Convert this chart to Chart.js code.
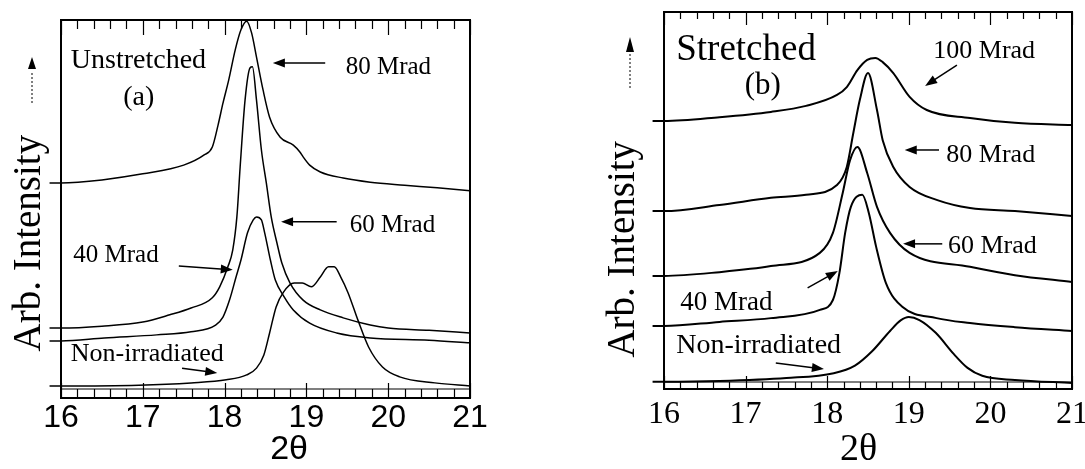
<!DOCTYPE html>
<html>
<head>
<meta charset="utf-8">
<title>Arb. Intensity vs 2θ</title>
<script src="https://cdn.jsdelivr.net/npm/chart.js@4.4.1/dist/chart.umd.min.js"></script>
<style>
  html, body { margin: 0; padding: 0; background: #fff; overflow: hidden; }
  #wrap { position: relative; width: 1085px; height: 469px; overflow: hidden; background: #fff; }
  canvas { position: absolute; top: 0; }
  #chartA { left: 0; }
  #chartB { left: 545px; }
</style>
</head>
<body>
<div id="wrap">
  <canvas id="chartA" width="545" height="469"></canvas>
  <canvas id="chartB" width="545" height="469"></canvas>
</div>
<script>
// values: 2-theta and intensity (arb. units, 0-100 of the frame)

// (a) unstretched
const unstrX80 = [15.86, 16.0, 16.5, 17.0, 17.5, 17.75, 17.85, 17.92, 17.98, 18.05, 18.13, 18.2, 18.27, 18.33, 18.39, 18.47, 18.55, 18.68, 18.84, 18.92, 18.96, 19.04, 19.17, 19.45, 19.78, 20.2, 20.6, 21.0];
const unstr80  = [56.9, 56.9, 57.7, 59.3, 61.6, 64.3, 66.4, 72.2, 78.0, 84.1, 92.1, 97.4, 99.7, 96.6, 90.2, 81.5, 74.3, 69.0, 66.9, 65.1, 63.8, 61.6, 59.8, 58.2, 57.1, 56.3, 55.6, 54.8];

const unstrX60 = [15.86, 16.0, 16.5, 17.0, 17.33, 17.59, 17.85, 17.94, 18.04, 18.10, 18.15, 18.19, 18.25, 18.31, 18.34, 18.39, 18.45, 18.51, 18.57, 18.64, 18.70, 18.80, 18.96, 19.17, 19.45, 19.78, 20.0, 20.5, 21.0];
const unstr60  = [18.5, 18.5, 19.0, 20.1, 22.0, 23.8, 26.5, 29.4, 34.7, 39.2, 47.9, 61.1, 78.8, 87.3, 87.6, 78.8, 65.6, 56.9, 47.9, 41.0, 35.7, 30.4, 25.9, 23.3, 21.2, 19.3, 18.5, 17.9, 17.2];

const unstrX40 = [15.86, 16.0, 16.53, 17.17, 17.59, 17.89, 17.98, 18.06, 18.14, 18.20, 18.28, 18.35, 18.39, 18.45, 18.49, 18.56, 18.62, 18.73, 18.84, 19.04, 19.37, 19.78, 20.5, 21.0];
const unstr40  = [15.1, 15.1, 15.9, 16.7, 17.5, 19.3, 21.4, 25.9, 32.0, 36.5, 43.7, 47.1, 47.9, 47.1, 43.7, 36.5, 31.2, 26.7, 23.3, 19.8, 17.2, 15.9, 15.3, 14.6];

const unstrX0 = [15.86, 16.0, 16.95, 17.59, 18.02, 18.27, 18.39, 18.48, 18.55, 18.63, 18.72, 18.85, 18.95, 19.06, 19.17, 19.27, 19.34, 19.42, 19.51, 19.63, 19.76, 19.93, 20.14, 20.57, 21.0];
const unstr0  = [3.2, 3.2, 3.4, 4.0, 4.8, 6.1, 7.9, 11.4, 17.2, 24.1, 28.0, 30.4, 30.4, 29.4, 32.0, 34.7, 34.7, 32.0, 27.8, 20.6, 13.5, 8.2, 5.6, 4.0, 3.2];

// (b) stretched
const strX100 = [15.86, 16.0, 16.68, 17.31, 17.74, 18.12, 18.24, 18.37, 18.49, 18.59, 18.68, 18.81, 19.01, 19.22, 19.75, 20.3, 21.0];
const str100  = [71.1, 71.1, 72.1, 73.5, 75.1, 78.0, 80.1, 84.6, 87.3, 87.8, 86.7, 83.8, 77.5, 74.0, 71.9, 70.6, 70.0];

const strX80 = [15.86, 16.0, 16.68, 17.31, 17.74, 18.12, 18.24, 18.32, 18.40, 18.50, 18.61, 18.68, 18.81, 19.01, 19.35, 19.75, 20.3, 21.0];
const str80  = [47.2, 47.2, 48.8, 50.7, 51.5, 54.1, 58.9, 67.9, 76.7, 83.8, 74.0, 66.0, 58.9, 53.6, 50.1, 48.0, 47.2, 45.9];

const strX60 = [15.86, 16.0, 16.68, 17.31, 17.91, 18.07, 18.19, 18.28, 18.37, 18.49, 18.61, 18.77, 19.01, 19.75, 20.3, 21.0];
const str60  = [30.0, 30.0, 31.0, 32.6, 36.1, 41.4, 52.0, 60.7, 64.2, 57.3, 48.3, 41.4, 36.1, 32.4, 30.2, 28.4];

const strX40 = [15.86, 16.0, 16.68, 17.31, 17.91, 18.07, 18.15, 18.22, 18.29, 18.43, 18.51, 18.60, 18.72, 18.92, 19.34, 19.75, 20.3, 21.0];
const str40  = [16.7, 16.7, 17.8, 18.8, 21.0, 23.6, 30.8, 41.4, 48.3, 51.5, 46.7, 37.7, 28.1, 21.8, 18.8, 17.5, 16.4, 15.4];

const strX0 = [15.86, 16.0, 16.68, 17.5, 18.08, 18.34, 18.55, 18.77, 18.9, 19.0, 19.13, 19.33, 19.55, 19.72, 19.9, 20.3, 21.0];
const str0  = [1.9, 1.9, 2.1, 2.9, 4.2, 6.2, 10.0, 15.4, 18.2, 19.1, 18.3, 14.9, 9.3, 5.6, 3.5, 2.4, 1.6];

const serif = "'Liberation Serif', 'Times New Roman', serif";
const sans = "'Liberation Sans', Arial, sans-serif";

// frame, inward ticks and the text notes with arrows
const framePlugin = {
  id: 'frame',
  afterDraw(chart, args, o) {
    const {ctx, chartArea: a, scales: {x, y}} = chart;
    ctx.save();
    ctx.strokeStyle = '#000';
    ctx.fillStyle = '#000';
    ctx.lineWidth = 2;
    ctx.strokeRect(a.left, a.top, a.right - a.left, a.bottom - a.top);

    ctx.lineWidth = 1.2;
    ctx.beginPath();
    ctx.moveTo(a.left, a.bottom - o.strip);
    ctx.lineTo(a.right, a.bottom - o.strip);
    ctx.stroke();

    for (let i = 0; i <= 25; i++) {
      const px = Math.round(x.getPixelForValue(16 + i * 0.2)) + 0.5;
      const len = i % 5 === 0 ? o.major : o.minor;
      ctx.beginPath();
      ctx.moveTo(px, a.bottom); ctx.lineTo(px, a.bottom - len);
      ctx.moveTo(px, a.top); ctx.lineTo(px, a.top + len);
      ctx.stroke();
    }

    ctx.textBaseline = 'alphabetic';
    ctx.textAlign = 'left';
    o.notes.forEach(n => {
      ctx.font = n.size + 'px ' + serif;
      ctx.fillText(n.text, x.getPixelForValue(n.x), y.getPixelForValue(n.y));
    });

    ctx.lineWidth = 1.5;
    o.arrows.forEach(r => {
      const x1 = x.getPixelForValue(r[0]), y1 = y.getPixelForValue(r[1]);
      const x2 = x.getPixelForValue(r[2]), y2 = y.getPixelForValue(r[3]);
      const ang = Math.atan2(y2 - y1, x2 - x1);
      ctx.beginPath();
      ctx.moveTo(x1, y1);
      ctx.lineTo(x2 - 9 * Math.cos(ang), y2 - 9 * Math.sin(ang));
      ctx.stroke();
      ctx.beginPath();
      ctx.moveTo(x2, y2);
      ctx.lineTo(x2 - 12 * Math.cos(ang) + 4.5 * Math.sin(ang), y2 - 12 * Math.sin(ang) - 4.5 * Math.cos(ang));
      ctx.lineTo(x2 - 12 * Math.cos(ang) - 4.5 * Math.sin(ang), y2 - 12 * Math.sin(ang) + 4.5 * Math.cos(ang));
      ctx.closePath();
      ctx.fill();
    });

    // intensity arrow next to the axis title
    const ya = o.yArrow;
    ctx.lineWidth = 1;
    ctx.setLineDash([2, 2]);
    ctx.beginPath();
    ctx.moveTo(ya.x, ya.end); ctx.lineTo(ya.x, ya.base + 2);
    ctx.stroke();
    ctx.setLineDash([]);
    ctx.beginPath();
    ctx.moveTo(ya.x, ya.tip);
    ctx.lineTo(ya.x - 4, ya.base);
    ctx.lineTo(ya.x + 4, ya.base);
    ctx.closePath();
    ctx.fill();
    ctx.restore();
  }
};

function makeChart(id, cfg) {
  return new Chart(document.getElementById(id), {
    type: 'line',
    data: {
      datasets: cfg.series.map(s => ({
        label: s.label,
        data: s.x.map((v, i) => ({x: v, y: s.y[i]})),
        borderColor: '#000',
        borderWidth: cfg.lineWidth,
        pointRadius: 0,
        fill: false,
        cubicInterpolationMode: 'monotone',
        clip: false
      }))
    },
    options: {
      responsive: false,
      animation: false,
      devicePixelRatio: 1,
      layout: {padding: cfg.padding},
      plugins: {
        legend: {display: false},
        tooltip: {enabled: false},
        frame: cfg.frame
      },
      scales: {
        x: {
          type: 'linear', min: 16, max: 21,
          grid: {display: false},
          border: {display: false},
          afterFit: s => { s.height = cfg.xHeight; },
          ticks: {stepSize: 1, autoSkip: false, maxRotation: 0, color: '#000', padding: cfg.tickPad,
                  font: {family: cfg.tickFamily, size: 32, lineHeight: 1}},
          title: {display: true, text: cfg.xTitle, color: '#000',
                  font: {family: cfg.xTitleFamily, size: cfg.xTitleSize, lineHeight: 1},
                  padding: {top: 0, bottom: cfg.xTitlePad}}
        },
        y: {
          type: 'linear', min: 0, max: 100,
          grid: {display: false},
          border: {display: false},
          ticks: {display: false},
          afterFit: s => { s.width = cfg.yWidth; },
          title: {display: true, text: cfg.yTitle, color: '#000',
                  font: {family: serif, size: 39, lineHeight: 1},
                  padding: {top: cfg.yTitlePad, bottom: 0}}
        }
      }
    },
    plugins: [framePlugin]
  });
}

makeChart('chartA', {
  series: [
    {label: '80 Mrad', x: unstrX80, y: unstr80},
    {label: '60 Mrad', x: unstrX60, y: unstr60},
    {label: '40 Mrad', x: unstrX40, y: unstr40},
    {label: 'Non-irradiated', x: unstrX0, y: unstr0}
  ],
  lineWidth: 1.5,
  padding: {left: 0, right: 75, top: 20, bottom: 0},
  xHeight: 71, yWidth: 61,
  tickFamily: sans, tickPad: -4,
  xTitle: '     2θ', xTitleFamily: sans, xTitleSize: 34, xTitlePad: 2,
  yTitle: 'Arb. Intensity       ', yTitlePad: 10,
  frame: {
    strip: 9, minor: 9, major: 15,
    notes: [
      {text: 'Unstretched', x: 16.12, y: 87.3, size: 28},
      {text: '(a)', x: 16.76, y: 77.5, size: 28},
      {text: '80 Mrad', x: 19.48, y: 85.7, size: 25},
      {text: '60 Mrad', x: 19.53, y: 43.9, size: 25},
      {text: '40 Mrad', x: 16.15, y: 36.0, size: 25},
      {text: 'Non-irradiated', x: 16.12, y: 9.8, size: 26}
    ],
    arrows: [
      [19.23, 88.6, 18.59, 88.6],
      [19.37, 46.6, 18.69, 46.6],
      [17.44, 34.9, 18.10, 33.9],
      [17.48, 7.9, 17.91, 6.6]
    ],
    yArrow: {x: 32, tip: 57, base: 69, end: 103}
  }
});

makeChart('chartB', {
  series: [
    {label: '100 Mrad', x: strX100, y: str100},
    {label: '80 Mrad', x: strX80, y: str80},
    {label: '60 Mrad', x: strX60, y: str60},
    {label: '40 Mrad', x: strX40, y: str40},
    {label: 'Non-irradiated', x: strX0, y: str0}
  ],
  lineWidth: 2,
  padding: {left: 0, right: 18, top: 12, bottom: 0},
  xHeight: 80, yWidth: 119,
  tickFamily: serif, tickPad: 2,
  xTitle: '2θ  ', xTitleFamily: serif, xTitleSize: 38, xTitlePad: 0,
  yTitle: 'Arb. Intensity          ', yTitlePad: 59,
  frame: {
    strip: 7, minor: 7, major: 13,
    notes: [
      {text: 'Stretched', x: 16.15, y: 87.3, size: 37},
      {text: '(b)', x: 16.99, y: 78.2, size: 31},
      {text: '100 Mrad', x: 19.30, y: 87.8, size: 26},
      {text: '80 Mrad', x: 19.46, y: 60.2, size: 26},
      {text: '60 Mrad', x: 19.48, y: 36.1, size: 26},
      {text: '40 Mrad', x: 16.20, y: 21.0, size: 27},
      {text: 'Non-irradiated', x: 16.15, y: 9.5, size: 28}
    ],
    arrows: [
      [19.59, 85.9, 19.20, 80.4],
      [19.37, 63.4, 18.95, 63.4],
      [19.41, 38.5, 18.93, 38.5],
      [17.76, 26.8, 18.13, 31.3],
      [17.37, 6.9, 17.96, 5.3]
    ],
    yArrow: {x: 85, tip: 37, base: 52, end: 88}
  }
});
</script>
</body>
</html>
